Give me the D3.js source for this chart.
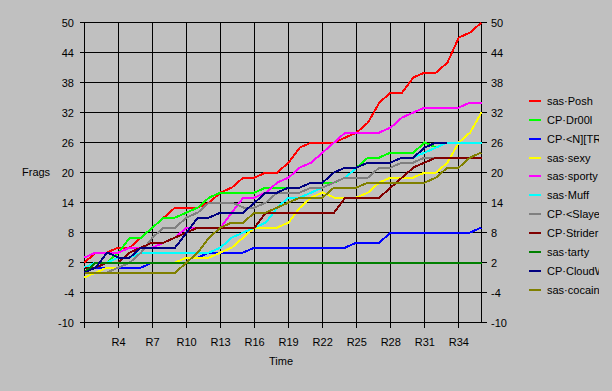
<!DOCTYPE html>
<html>
<head>
<meta charset="utf-8">
<script src="https://cdn.jsdelivr.net/npm/d3@7"></script>
<style>
  body { margin: 0; background: #c0c0c0; }
  svg { display: block; }
  text { font-family: "Liberation Sans", Arial, sans-serif; font-size: 11px; fill: #000; }
</style>
</head>
<body>
<div id="chart"></div>
<script>
// rounds R1..R36
const rounds = d3.range(1, 37);
const tickRounds = [1, 4, 7, 10, 13, 16, 19, 22, 25, 28, 31, 34];
const yTicks = [-10, -4, 2, 8, 14, 20, 26, 32, 38, 44, 50];

const players = ["sas·Posh", "CP·Dr00l", "CP·<N][TR]", "sas·sexy", "sas·sporty", "sas·Muff",
                 "CP·<Slayer>", "CP·Strider", "sas·tarty", "CP·CloudWalker", "sas·cocaine"];
const colors = ["#ff0000", "#00ff00", "#0000ff", "#ffff00", "#ff00ff", "#00ffff",
                "#808080", "#800000", "#008000", "#000080", "#808000"];

// frags after each round, one array per player
const posh    = [2,4,4,5,5,7,9,11,13,13,13,14,16,17,19,19,20,20,22,25,26,26,26,27,28,30,34,36,36,39,40,40,42,47,48,50];
const dr00l   = [1,1,2,4,7,7,9,11,11,12,13,15,16,16,16,16,17,17,17,17,18,18,18,19,21,23,23,24,24,24,26,25,26,26,26,26];
const ntr     = [1,1,1,1,1,1,2,2,2,3,3,4,4,4,4,5,5,5,5,5,5,5,5,5,6,6,6,8,8,8,8,8,8,8,8,9];
const sexy    = [-1,0,1,1,2,2,2,2,2,3,3,3,4,5,7,9,9,9,10,13,15,16,15,15,15,16,18,19,19,19,20,20,22,26,28,32];
const sporty  = [3,4,4,4,5,5,5,6,7,9,9,9,9,12,15,15,16,18,19,21,22,24,26,28,28,28,28,29,31,32,33,33,33,33,34,34];
const muff    = [1,2,2,3,3,4,4,4,4,4,4,4,5,7,8,9,10,13,15,15,16,17,18,19,21,22,22,22,23,23,24,25,26,26,26,26];
const slayer  = [0,0,0,1,2,4,7,9,9,11,12,14,14,14,13,13,14,16,16,16,17,17,18,19,19,19,21,21,22,22,23,23,23,23,23,24];
const strider = [1,1,2,2,4,5,6,6,7,8,9,9,9,9,9,9,12,12,12,12,12,12,12,15,15,15,15,17,19,21,22,23,23,23,23,23];
const tarty   = [0,2,2,2,2,2,2,2,2,2,2,2,2,2,2,2,2,2,2,2,2,2,2,2,2,2,2,2,2,2,2,2,2,2,2,2];
const cloudw  = [0,1,4,3,3,5,5,5,5,8,11,11,12,12,12,14,16,16,17,17,18,18,20,21,21,22,22,22,23,23,25,26,26];
const cocaine = [0,0,0,0,0,0,0,0,0,2,4,7,9,10,10,12,12,13,14,15,15,15,17,17,17,18,18,18,18,18,18,19,21,21,23,24];

const series = [posh, dr00l, ntr, sexy, sporty, muff, slayer, strider, tarty, cloudw, cocaine];

const W = 612, H = 391;
const svg = d3.select("#chart").append("svg")
    .attr("width", W)
    .attr("height", H);

const x = d3.scaleLinear().domain([1, 36]).range([84.5, 481.5]);
const y = d3.scaleLinear().domain([-10, 50]).range([322.5, 22.5]);

// grid + ticks
const grid = svg.append("g").attr("stroke", "#000").attr("stroke-width", 1).attr("shape-rendering", "crispEdges");
grid.selectAll(".hl").data(yTicks).join("line")
    .attr("x1", x(1) - 5).attr("x2", x(36) + 5)
    .attr("y1", d => y(d)).attr("y2", d => y(d));
grid.selectAll(".vl").data(tickRounds).join("line")
    .attr("x1", d => x(d)).attr("x2", d => x(d))
    .attr("y1", y(50)).attr("y2", y(-10) + 5);
grid.append("line")
    .attr("x1", x(36)).attr("x2", x(36))
    .attr("y1", y(50)).attr("y2", y(-10));

// y labels, both sides
svg.append("g").selectAll("text").data(yTicks).join("text")
    .attr("x", 74).attr("y", d => y(d) + 4)
    .attr("text-anchor", "end")
    .text(d => d);
svg.append("g").selectAll("text").data(yTicks).join("text")
    .attr("x", 491).attr("y", d => y(d) + 4)
    .text(d => d);

// x labels (R1 is left blank)
svg.append("g").selectAll("text").data(tickRounds.slice(1)).join("text")
    .attr("x", d => x(d)).attr("y", 346)
    .attr("text-anchor", "middle")
    .text(d => "R" + d);

svg.append("text").attr("x", 281).attr("y", 365).attr("text-anchor", "middle").text("Time");
svg.append("text").attr("x", 22).attr("y", 176).text("Frags");

// lines
const line = d3.line()
    .x((d, i) => x(rounds[i]))
    .y(d => y(d));

svg.append("g").selectAll("path").data(series).join("path")
    .attr("d", line)
    .attr("fill", "none")
    .attr("stroke", (d, i) => colors[i])
    .attr("stroke-width", 2)
    .attr("shape-rendering", "crispEdges");

// legend (names get cut at the window edge like the original)
svg.append("clipPath").attr("id", "legclip")
    .append("rect").attr("x", 520).attr("y", 80).attr("width", 79).attr("height", 230);

const leg = svg.append("g").attr("clip-path", "url(#legclip)");
const rowY = d3.scaleLinear().domain([0, 10]).range([101, 289.5]);
players.forEach((p, i) => {
    leg.append("line")
        .attr("x1", 529).attr("x2", 541)
        .attr("y1", Math.round(rowY(i))).attr("y2", Math.round(rowY(i)))
        .attr("stroke", colors[i]).attr("stroke-width", 2)
        .attr("shape-rendering", "crispEdges");
    leg.append("text")
        .attr("x", 547).attr("y", rowY(i) + 4)
        .text(p);
});
</script>
</body>
</html>
